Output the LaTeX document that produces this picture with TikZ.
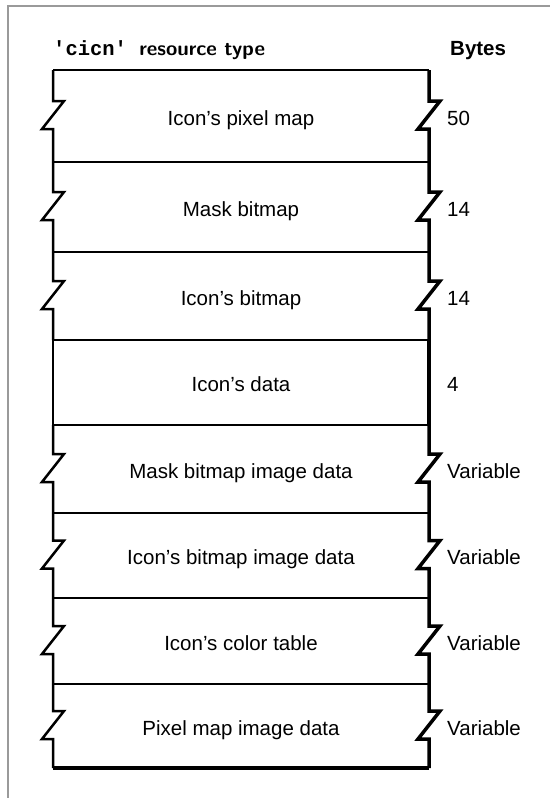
\documentclass[tikz,border=0pt]{standalone}
\usepackage{fontspec}
\setmainfont{Liberation Sans}
\setmonofont{Liberation Mono}
\usetikzlibrary{positioning,calc}
\definecolor{rsInk}{HTML}{000000}
\definecolor{rsFrame}{HTML}{9A9A9A}
\tikzset{
  cell/.style={minimum width=376pt, inner sep=0pt, outer sep=0pt, text height=20pt, text depth=2pt, font={\fontsize{20.5pt}{24pt}\selectfont}, text=rsInk},
  bytes/.style={inner sep=0pt, text height=20pt, text depth=2pt, font={\fontsize{20.5pt}{24pt}\selectfont}},
  head/.style={inner sep=0pt, font={\bfseries\fontsize{20.5pt}{24pt}\selectfont}},
  lft/.style={draw=rsInk, line width=2.5pt},
  rgt/.style={draw=rsInk, line width=3.5pt},
  rul/.style={draw=rsInk, line width=1.8pt},
  frm/.style={draw=rsFrame, line width=2.5pt},
}

\begin{document}
\begin{tikzpicture}[x=1pt, y=1pt]
            \useasboundingbox (0,0) rectangle (550,-798);
            \draw[frm] (8,-798) -- (8,-6) -- (550,-6);
            \node[cell, minimum height=92pt, anchor=north] (r1) at (241,-70) {Icon's pixel map};
            \node[cell, minimum height=90pt, below=0pt of r1] (r2) {Mask bitmap};
            \node[cell, minimum height=88pt, below=0pt of r2] (r3) {Icon's bitmap};
            \node[cell, minimum height=85pt, below=0pt of r3] (r4) {Icon's data};
            \node[cell, minimum height=88pt, below=0pt of r4] (r5) {Mask bitmap image data};
            \node[cell, minimum height=85pt, below=0pt of r5] (r6) {Icon's bitmap image data};
            \node[cell, minimum height=86pt, below=0pt of r6] (r7) {Icon's color table};
            \node[cell, minimum height=84pt, below=0pt of r7] (r8) {Pixel map image data};
            \node[head, anchor=base west] (title) at ($(r1.north west)+(0,15)$) {\ttfamily 'cicn' \sffamily resource type};
            \node[head, anchor=base west] (bhead) at ($(r1.north east)+(21,15)$) {Bytes};
            \node[bytes, right=18pt of r1.east] (b1) {50};
            \node[bytes, right=18pt of r2.east] (b2) {14};
            \node[bytes, right=18pt of r3.east] (b3) {14};
            \node[bytes, right=18pt of r4.east] (b4) {4};
            \node[bytes, right=18pt of r5.east] (b5) {Variable};
            \node[bytes, right=18pt of r6.east] (b6) {Variable};
            \node[bytes, right=18pt of r7.east] (b7) {Variable};
            \node[bytes, right=18pt of r8.east] (b8) {Variable};
            % torn edges
            \foreach \r in {r1,r2,r3,r5,r6,r7,r8} {
              \draw[lft] (\r.north west) -- ($(\r.west)+(0,15)$) -- ++(11,0) -- ++(-22,-28) -- ++(11,0) -- (\r.south west);
              \draw[rgt] (\r.north east) -- ($(\r.east)+(0,15)$) -- ++(11,0) -- ++(-22,-28) -- ++(11,0) -- (\r.south east);
            }
            \draw[lft] (r4.north west) -- (r4.south west);
            \draw[rgt] (r4.north east) -- (r4.south east);
            \draw[rul] (r1.north west) -- (r1.north east);
            \foreach \r in {r1,r2,r3,r4,r5,r6,r7} \draw[rul] (\r.south west) -- (\r.south east);
            \draw[rgt] (r8.south west) -- (r8.south east);
        \end{tikzpicture}
\end{document}
